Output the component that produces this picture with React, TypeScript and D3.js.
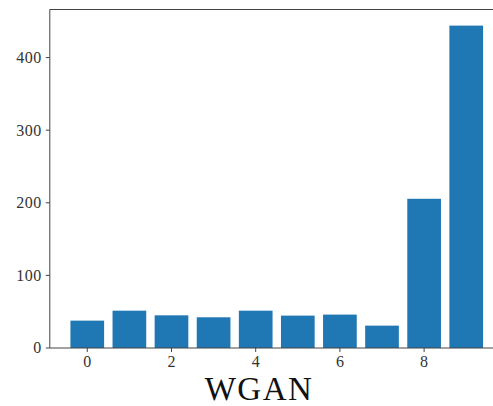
import React from "react";
import * as d3 from "d3";

const categories = [0, 1, 2, 3, 4, 5, 6, 7, 8, 9];
const counts = [37.7, 51.4, 45, 42.3, 51.4, 44.6, 46, 30.8, 205.5, 444];
const xTicks = [0, 2, 4, 6, 8];
const yTicks = [0, 100, 200, 300, 400];
const title = "WGAN";

const width = 493;
const height = 406;

export default function App() {
  // plot area (right side runs past the picture, as in the original crop)
  const left = 49.8;
  const right = 503.7;
  const top = 9.5;
  const bottom = 348;

  const xScale = d3.scaleLinear().domain([-0.89, 9.89]).range([left, right]);
  const yScale = d3.scaleLinear().domain([0, 466.2]).range([bottom, top]);
  const barW = xScale(0.4) - xScale(-0.4);
  const font = "'Liberation Serif', 'DejaVu Serif', serif";
  const spine = "#444";

  return (
    <div style={{ position: "absolute", left: 0, top: 0 }}>
      <svg width={width} height={height} style={{ display: "block", background: "#fff" }}>
        {categories.map((c, i) => (
          <rect
            key={c}
            x={xScale(c) - barW / 2}
            y={yScale(counts[i])}
            width={barW}
            height={yScale(0) - yScale(counts[i])}
            fill="#1f77b4"
          />
        ))}

        {/* spines */}
        <line x1={left} x2={width} y1={top} y2={top} stroke={spine} strokeWidth={1} />
        <line x1={left} x2={width} y1={bottom} y2={bottom} stroke={spine} strokeWidth={1} />
        <line x1={left} x2={left} y1={top} y2={bottom} stroke={spine} strokeWidth={1} />

        {/* y axis */}
        {yTicks.map(t => (
          <g key={t} transform={`translate(0,${yScale(t)})`}>
            <line x1={left - 4} x2={left} stroke={spine} strokeWidth={1} />
            <text x={left - 8} dy="0.34em" textAnchor="end" fontFamily={font} fontSize={16} letterSpacing={0.5} fill="#333">
              {t}
            </text>
          </g>
        ))}

        {/* x axis */}
        {xTicks.map(t => (
          <g key={t} transform={`translate(${xScale(t)},${bottom})`}>
            <line y1={0} y2={4} stroke={spine} strokeWidth={1} />
            <text y={19} textAnchor="middle" fontFamily={font} fontSize={16} fill="#333">
              {t}
            </text>
          </g>
        ))}

        <text x={259} y={400} textAnchor="middle" fontFamily={font} fontSize={33} letterSpacing={1.5} fill="#111">
          {title}
        </text>
      </svg>
    </div>
  );
}
